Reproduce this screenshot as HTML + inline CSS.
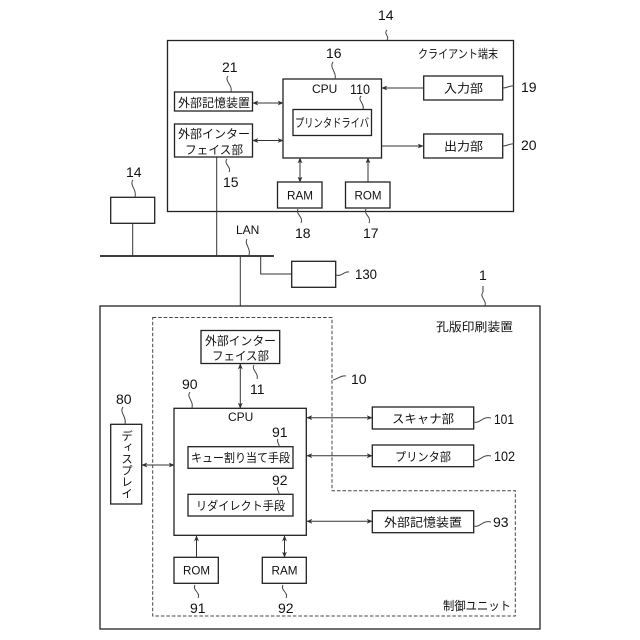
<!DOCTYPE html>
<html><head><meta charset="utf-8"><style>
html,body{margin:0;padding:0;background:#fff}
svg{display:block}
text{font-family:"Liberation Sans","Noto Sans CJK JP",sans-serif;fill:#111;font-size:12px}
.n{font-size:14px}
.b{fill:#fff;stroke:#222;stroke-width:1.3}
.l{fill:none;stroke:#333;stroke-width:1}
.w{fill:none;stroke:#444;stroke-width:1}
</style></head><body>
<svg width="640" height="640" viewBox="0 0 640 640" xmlns="http://www.w3.org/2000/svg">
<defs>
<marker id="a" viewBox="0 0 8 8" refX="7" refY="4" markerWidth="6" markerHeight="6" orient="auto-start-reverse" markerUnits="userSpaceOnUse"><path d="M0 .8L8 4L0 7.2L2 4Z" fill="#333"/></marker>
</defs>
<rect width="640" height="640" fill="#fff"/>

<!-- client frame -->
<rect class="b" x="167.5" y="40.5" width="346" height="171"/>
<path class="w" d="M387 30c-4 4 3 6 0 10"/>
<text class="n" x="378" y="20">14</text>
<text x="418" y="58" textLength="80" lengthAdjust="spacingAndGlyphs">クライアント端末</text>

<rect class="b" x="283" y="79" width="98.5" height="79"/>
<text x="312" y="93" font-size="12">CPU</text>
<text class="n" x="350" y="94" textLength="20" lengthAdjust="spacingAndGlyphs">110</text>
<path class="w" d="M361 96c-4 4 4 8 2 13"/>
<path class="w" d="M333 62c-4 6 4 10 2 17"/>
<text class="n" x="326" y="58">16</text>
<rect class="b" x="293" y="109.5" width="78.5" height="26"/>
<text x="295" y="127" textLength="74" lengthAdjust="spacingAndGlyphs">プリンタドライバ</text>

<rect class="b" x="174.5" y="92" width="78" height="19"/>
<text x="178" y="107" textLength="72" lengthAdjust="spacingAndGlyphs">外部記憶装置</text>
<text class="n" x="222" y="72">21</text>
<path class="w" d="M228 76c-4 5 5 9 3 16"/>
<rect class="b" x="174.5" y="124" width="78" height="33"/>
<text x="178" y="138" textLength="72" lengthAdjust="spacingAndGlyphs">外部インター</text>
<text x="185" y="154" textLength="58" lengthAdjust="spacingAndGlyphs">フェイス部</text>
<path class="w" d="M227 159c-4 5 5 8 2 13"/>
<text class="n" x="223" y="187">15</text>

<path class="l" d="M253 103H283" marker-start="url(#a)" marker-end="url(#a)"/>
<path class="l" d="M253 140.500H283" marker-start="url(#a)" marker-end="url(#a)"/>

<rect class="b" x="277.500" y="182" width="44.500" height="26"/>
<text x="287" y="199.500" textLength="26" lengthAdjust="spacingAndGlyphs">RAM</text>
<rect class="b" x="345.500" y="182" width="44.500" height="26"/>
<text x="354.500" y="199.500" textLength="27" lengthAdjust="spacingAndGlyphs">ROM</text>
<path class="l" d="M300 158V182" marker-start="url(#a)" marker-end="url(#a)"/>
<path class="l" d="M368 182V158" marker-end="url(#a)"/>
<path class="w" d="M298 209c-3 5 6 8 3 14"/>
<path class="w" d="M366 209c-3 5 6 8 3 14"/>
<text class="n" x="295" y="238">18</text>
<text class="n" x="363" y="238">17</text>

<rect class="b" x="423.700" y="76" width="79" height="24"/>
<text x="444" y="92.500" textLength="39" font-size="13" lengthAdjust="spacingAndGlyphs">入力部</text>
<rect class="b" x="423.700" y="134" width="79" height="24"/>
<text x="444" y="150.500" textLength="39" font-size="13" lengthAdjust="spacingAndGlyphs">出力部</text>
<path class="l" d="M423.700 88H382" marker-end="url(#a)"/>
<path class="l" d="M382 146H423" marker-end="url(#a)"/>
<path class="w" d="M503 88c5 0 7-3 11-2"/>
<path class="w" d="M503 146c5 0 7-3 11-2"/>
<text class="n" x="521" y="92">19</text>
<text class="n" x="521" y="150">20</text>

<!-- LAN -->
<path d="M100 256H274" fill="none" stroke="#222" stroke-width="1.800"/>
<path class="l" d="M216.700 157V256"/>
<path class="l" d="M132.700 223V256"/>
<path class="l" d="M240.300 256V331"/>
<path class="l" d="M260.700 256V274H292"/>
<rect class="b" x="110.700" y="197.300" width="44" height="26"/>
<text class="n" x="126" y="177">14</text>
<path class="w" d="M133 180c-4 5 4 9 2 17"/>
<rect class="b" x="291.700" y="261.300" width="44" height="26"/>
<path class="w" d="M336 275c6 2 8-4 13-3"/>
<text class="n" x="355" y="279" textLength="22" lengthAdjust="spacingAndGlyphs">130</text>
<text x="236" y="234" font-size="12.500">LAN</text>
<path class="w" d="M247 239c-3 5 4 9 2 16"/>

<!-- printer frame -->
<rect class="b" x="100" y="306" width="440" height="323"/>
<path class="l" d="M483 286v6"/>
<path class="w" d="M483 292c-4 5 4 8 2 14"/>
<text class="n" x="479" y="280">1</text>
<text x="436" y="331" textLength="77" lengthAdjust="spacingAndGlyphs">孔版印刷装置</text>

<path d="M152.700 317.500H332V490.700H515.300V616H152.700Z" fill="none" stroke="#444" stroke-width="1" stroke-dasharray="3.500 2"/>
<path class="w" d="M333 380c5-1 8-5 13-4"/>
<text class="n" x="351" y="384">10</text>
<text x="443" y="610" textLength="68" lengthAdjust="spacingAndGlyphs">制御ユニット</text>

<rect class="b" x="201" y="330.500" width="78.700" height="33"/>
<text x="205" y="345" textLength="71" lengthAdjust="spacingAndGlyphs">外部インター</text>
<text x="212" y="360" textLength="57" lengthAdjust="spacingAndGlyphs">フェイス部</text>
<path class="l" d="M240.300 364V408" marker-start="url(#a)" marker-end="url(#a)"/>
<path class="w" d="M254 365c-3 5 5 8 3 14"/>
<text class="n" x="250" y="394">11</text>

<rect class="b" x="174" y="408.300" width="132.300" height="127"/>
<text x="228" y="421" font-size="12">CPU</text>
<text class="n" x="182" y="389">90</text>
<path class="w" d="M190 392c-4 5 4 9 2 16"/>
<rect class="b" x="188" y="446.700" width="105" height="21.600"/>
<text x="191" y="462" textLength="99" lengthAdjust="spacingAndGlyphs">キュー割り当て手段</text>
<text class="n" x="272" y="437">91</text>
<path class="w" d="M278 439c-2 3 2 5 1 8"/>
<rect class="b" x="188" y="494.300" width="105" height="21.700"/>
<text x="196" y="510" textLength="89" lengthAdjust="spacingAndGlyphs">リダイレクト手段</text>
<text class="n" x="272" y="485">92</text>
<path class="w" d="M278 487c-2 3 2 5 1 8"/>

<rect class="b" x="110.700" y="424.300" width="31" height="79.700"/>
<text x="126" y="430" style="writing-mode:vertical-rl;text-orientation:upright;font-size:11.500px">ディスプレイ</text>
<text class="n" x="116" y="404">80</text>
<path class="w" d="M123 407c-4 5 4 10 2 17"/>
<path class="l" d="M142 465H174" marker-start="url(#a)" marker-end="url(#a)"/>

<rect class="b" x="174" y="557.300" width="44.300" height="26"/>
<text x="183" y="574.500" textLength="27" lengthAdjust="spacingAndGlyphs">ROM</text>
<rect class="b" x="262.300" y="557.300" width="44" height="26"/>
<text x="271.500" y="574.500" textLength="26" lengthAdjust="spacingAndGlyphs">RAM</text>
<path class="l" d="M196.500 557V536" marker-end="url(#a)"/>
<path class="l" d="M284.500 536V557" marker-start="url(#a)" marker-end="url(#a)"/>
<path class="w" d="M195 585c-3 5 6 8 3 13"/>
<path class="w" d="M283 585c-3 5 6 8 3 13"/>
<text class="n" x="190" y="613">91</text>
<text class="n" x="278" y="613">92</text>

<rect class="b" x="372.300" y="407" width="101.400" height="22"/>
<text x="392" y="423" textLength="62" lengthAdjust="spacingAndGlyphs">スキャナ部</text>
<rect class="b" x="372.300" y="445" width="101.400" height="21.700"/>
<text x="395" y="461" textLength="56" lengthAdjust="spacingAndGlyphs">プリンタ部</text>
<rect class="b" x="372.300" y="510.700" width="101.400" height="22"/>
<text x="384" y="526.500" textLength="78" lengthAdjust="spacingAndGlyphs">外部記憶装置</text>
<path class="l" d="M307 417.700H372" marker-start="url(#a)" marker-end="url(#a)"/>
<path class="l" d="M307 455.700H372" marker-start="url(#a)" marker-end="url(#a)"/>
<path class="l" d="M307 521.300H372" marker-start="url(#a)" marker-end="url(#a)"/>
<path class="w" d="M474 422c6 2 8-6 17-4"/>
<path class="w" d="M474 460c6 2 8-6 17-4"/>
<path class="w" d="M474 526c6 2 8-6 17-4"/>
<text class="n" x="494" y="424" textLength="20" lengthAdjust="spacingAndGlyphs">101</text>
<text class="n" x="494" y="461" textLength="21" lengthAdjust="spacingAndGlyphs">102</text>
<text class="n" x="493" y="527">93</text>
</svg>
</body></html>
